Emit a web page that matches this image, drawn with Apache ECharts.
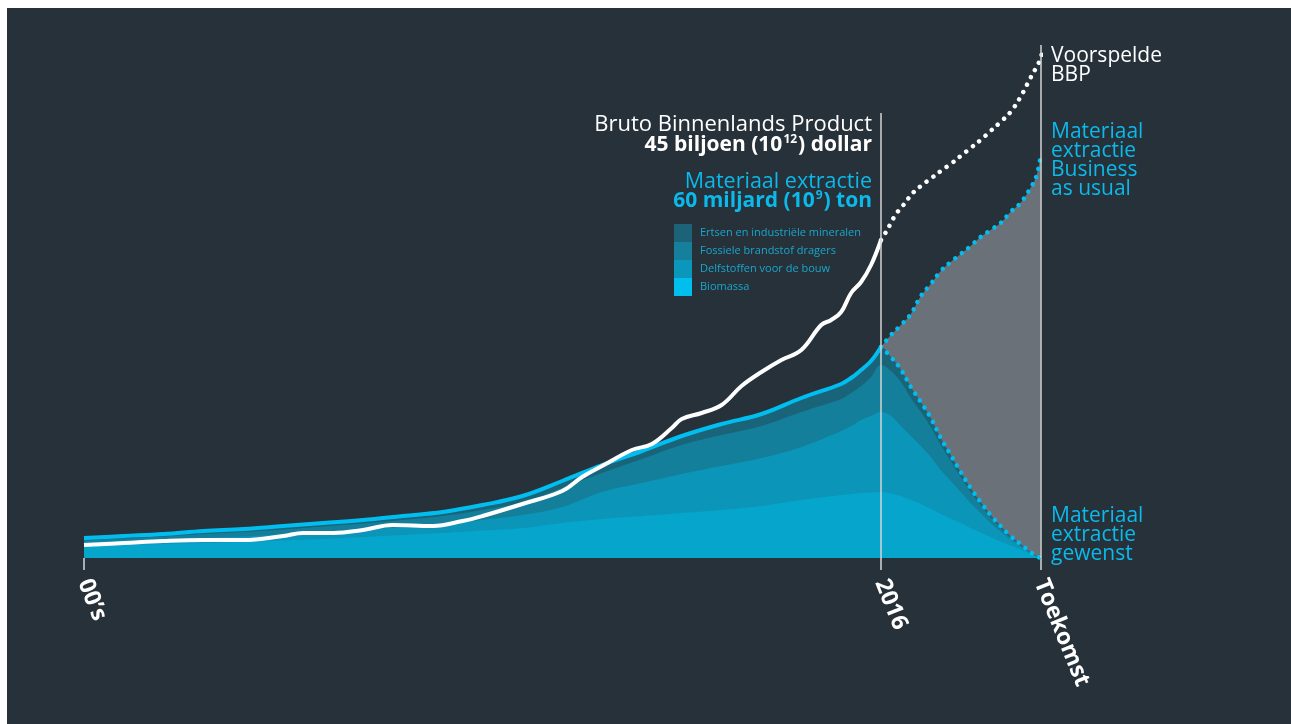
<!DOCTYPE html>
<html><head><meta charset="utf-8">
<script src="https://cdn.jsdelivr.net/npm/echarts@6/dist/echarts.min.js"></script>
<style>
html,body{margin:0;padding:0;background:#fff;width:1291px;height:724px;overflow:hidden}
#bg{position:absolute;left:7px;top:8px;right:0;bottom:0;background:#27313a}
#chart{position:absolute;left:0;top:0;width:1291px;height:724px}
</style></head><body><div id="bg"></div><div id="chart"></div>
<script>
const FONT = "'Open Sans', sans-serif";

// x positions (0 = "00's", 80 = 2016, 96 = "Toekomst")
const histX = [0,4,8,12,16,20,24,28,32,36,40,44,48,52,56,60,64,68,72,76,77,78,79,80];
const totalHist = [4.0,4.4,4.8,5.4,5.8,6.4,7.0,7.6,8.4,9.2,10.6,12.4,15.4,18.6,21.4,24.4,26.8,28.8,32.0,34.8,36.0,37.6,39.4,42.2];
const fossHist  = [3.6,3.9,4.3,4.8,5.2,5.7,6.3,6.9,7.6,8.4,9.6,11.2,14.0,17.0,19.8,22.6,24.6,26.4,29.2,31.8,33.0,34.4,36.2,38.6];
const delfHist  = [3.2,3.4,3.7,4.0,4.3,4.7,5.1,5.6,6.2,6.8,7.6,8.6,10.2,13.2,15.0,16.8,18.4,20.0,22.2,25.4,26.4,27.6,28.4,29.2];
const bioHist   = [2.4,2.6,2.8,3.0,3.2,3.5,3.8,4.2,4.6,5.0,5.5,6.0,7.0,7.8,8.4,9.0,9.6,10.4,11.6,12.6,12.8,13.0,13.1,13.2];

const futX      = [80,81,82,83,84,85,86,87,88,89,90,91,92,93,94,95,95.6,96];
const totalFut  = [42.2,40.2,37.7,34.2,31.2,28.0,24.0,20.6,17.2,14.0,11.2,8.6,6.4,4.4,2.8,1.2,0.4,0];
const fossFut   = [38.6,37.4,35.2,32.0,29.2,26.2,22.6,19.4,16.2,13.2,10.6,8.1,6.0,4.1,2.6,1.1,0.35,0];
const delfFut   = [29.2,28.4,26.4,24.4,22.4,20.2,17.6,15.4,13.2,11.0,9.0,7.0,5.3,3.7,2.3,1.0,0.3,0];
const bioFut    = [13.2,12.9,12.4,11.6,10.8,9.8,8.8,7.9,7.0,6.0,5.1,4.2,3.3,2.5,1.7,0.8,0.25,0];
const bauFut    = [42.2,44.6,46.6,48.8,52.4,54.8,57.4,59.2,60.8,62.4,64.2,65.6,67.0,69.2,71.0,74.0,76.4,80.2];

const gdpX = [0,4,8,12,16,20,22,25,28,31,35,38,40,44,48,50,52,55,57,59,60,62,64,66,68,70,72,74,75,76,77,78,79,80];
const gdpY = [2.6,3.0,3.4,3.6,3.6,4.4,5.0,5.0,5.6,6.6,6.4,7.4,8.4,10.8,13.4,16.2,18.4,21.6,22.8,26.0,27.8,29.0,30.6,34.4,37.2,39.6,41.6,46.6,47.6,49.2,53.0,55.2,58.6,63.6];
const gdpFX = [80,80.5,81,81.5,82.1,82.7,83.3,84,85,86,87,88,89,90,91,92,93,94,95,95.5,96,96.2];
const gdpFY = [63.6,65.2,67.0,68.8,70.2,71.8,73.2,74.4,75.9,77.4,78.8,80.4,82.0,83.6,85.4,87.2,89.2,92.2,96.0,97.8,99.8,101.6];

const xTicks = [0,80,96];
const xTickLabels = ["00’s","2016","Toekomst"];
const layerNames  = ['Ertsen en industriële mineralen','Fossiele brandstof dragers','Delfstoffen voor de bouw','Biomassa'];
const layerColors = ['#1a647a','#137f9b','#0b95b9','#06a5cb'];
const legendColors= ['#1c6378','#167f9c','#0b97bc','#00bfee'];

const pairs = (xs, ys) => xs.map((x,i)=>[x, ys[i]]);
const full = (h, f) => pairs(histX, h).concat(pairs(futX, f).slice(1));
const layers = [full(totalHist,totalFut), full(fossHist,fossFut), full(delfHist,delfFut), full(bioHist,bioFut)];

const CYAN = '#00bff0';
const SM = 0.4;
const dots = (color) => ({color, width:4.5, type:[0.01, 8.3], cap:'round'});

const series = [];
series.push({
  name:'BAU', type:'line', data:pairs(futX,bauFut), smooth:SM,
  showSymbol:false, lineStyle:dots(CYAN), areaStyle:{color:'#6b7178', opacity:1}, z:1, silent:true
});
layerNames.forEach((n,i)=>{
  series.push({
    name:n, type:'line', data:layers[i], smooth:SM, showSymbol:false,
    itemStyle:{color:layerColors[i]}, lineStyle:{width:0}, areaStyle:{color:layerColors[i], opacity:1}, z:2
  });
});
series.push({name:'Materiaal extractie', type:'line', data:pairs(histX,totalHist), smooth:SM,
  showSymbol:false, lineStyle:{color:CYAN, width:4}, z:3, silent:true});
series.push({name:'Materiaal extractie gewenst', type:'line', data:pairs(futX,totalFut), smooth:SM,
  showSymbol:false, lineStyle:dots(CYAN), z:3, silent:true});
series.push({name:'BBP', type:'line', data:pairs(gdpX,gdpY), smooth:SM,
  showSymbol:false, lineStyle:{color:'#ffffff', width:4}, z:4, silent:true});
series.push({name:'Voorspelde BBP', type:'line', data:pairs(gdpFX,gdpFY), smooth:SM, clip:false,
  showSymbol:false, lineStyle:dots('#ffffff'), z:4, silent:true,
  markLine:{silent:true, symbol:'none', label:{show:false}, lineStyle:{color:'#d6d6d6', width:1.5, type:'solid'},
    data:[[{coord:[80,0]},{coord:[80,89]}],[{coord:[96,0]},{coord:[96,102.6]}]]}
});

const chart = echarts.init(document.getElementById('chart'), null, {renderer:'canvas'});
chart.setOption({
  animation:false,
  backgroundColor:'transparent',
  grid:{left:84, right:250.6, top:8, bottom:166, containLabel:false},
  xAxis:{type:'value', min:0, max:96, splitLine:{show:false}, axisLine:{show:false},
    axisTick:{show:true, customValues:xTicks, length:12, lineStyle:{color:'#d6d6d6', width:1.5}},
    axisLabel:{show:true, customValues:xTicks, rotate:-68, margin:22, color:'#ffffff', fontFamily:FONT, fontWeight:'bold', fontSize:23,
      formatter:(v)=>{const i = xTicks.indexOf(v); return i>=0 ? xTickLabels[i] : '';}}},
  yAxis:{type:'value', min:0, max:110, show:false},
  legend:{orient:'vertical', left:674, top:224, padding:0, itemGap:0, itemWidth:18, itemHeight:18, icon:'rect',
    selectedMode:false,
    textStyle:{color:'#1aa6cc', fontSize:11, fontFamily:FONT, padding:[0,0,0,3]},
    data:layerNames.map((n,i)=>({name:n, itemStyle:{color:legendColors[i]}}))},
  graphic:[
    {type:'text', x:872, y:125, style:{text:'Bruto Binnenlands Product', fill:'#ffffff', fontSize:22, fontFamily:FONT, align:'right', verticalAlign:'middle'}},
    {type:'text', x:872, y:145, style:{text:'{b|45 biljoen (10}{s|12}{b|) dollar}', align:'right', verticalAlign:'middle',
      rich:{b:{fill:'#ffffff', fontSize:21, fontWeight:'bold', fontFamily:FONT, lineHeight:22},
            s:{fill:'#ffffff', fontSize:12, fontWeight:'bold', fontFamily:FONT, lineHeight:22, verticalAlign:'top', padding:[0,1,4,1]}}}},
    {type:'text', x:872, y:182, style:{text:'Materiaal extractie', fill:'#0bb9ea', fontSize:21.5, fontFamily:FONT, align:'right', verticalAlign:'middle'}},
    {type:'text', x:872, y:201, style:{text:'{b|60 miljard (10}{s|9}{b|) ton}', align:'right', verticalAlign:'middle',
      rich:{b:{fill:'#0bb9ea', fontSize:21, fontWeight:'bold', fontFamily:FONT, lineHeight:22},
            s:{fill:'#0bb9ea', fontSize:12, fontWeight:'bold', fontFamily:FONT, lineHeight:22, verticalAlign:'top', padding:[0,1,4,1]}}}},
    {type:'text', x:971, y:354, style:{text:'GAP', fill:'#ffffff', fontSize:35, fontWeight:'bold', fontFamily:FONT, align:'center', verticalAlign:'middle'}},
    {type:'text', x:1051, y:66, style:{text:'Voorspelde\nBBP', fill:'#ffffff', fontSize:21, lineHeight:19, fontFamily:FONT, align:'left', verticalAlign:'middle'}},
    {type:'text', x:1051, y:161, style:{text:'Materiaal\nextractie\nBusiness\nas usual', fill:'#0bb9ea', fontSize:21, lineHeight:19, fontFamily:FONT, align:'left', verticalAlign:'middle'}},
    {type:'text', x:1051, y:535, style:{text:'Materiaal\nextractie\ngewenst', fill:'#0bb9ea', fontSize:21, lineHeight:19, fontFamily:FONT, align:'left', verticalAlign:'middle'}}
  ],
  series
});
</script></body></html>
